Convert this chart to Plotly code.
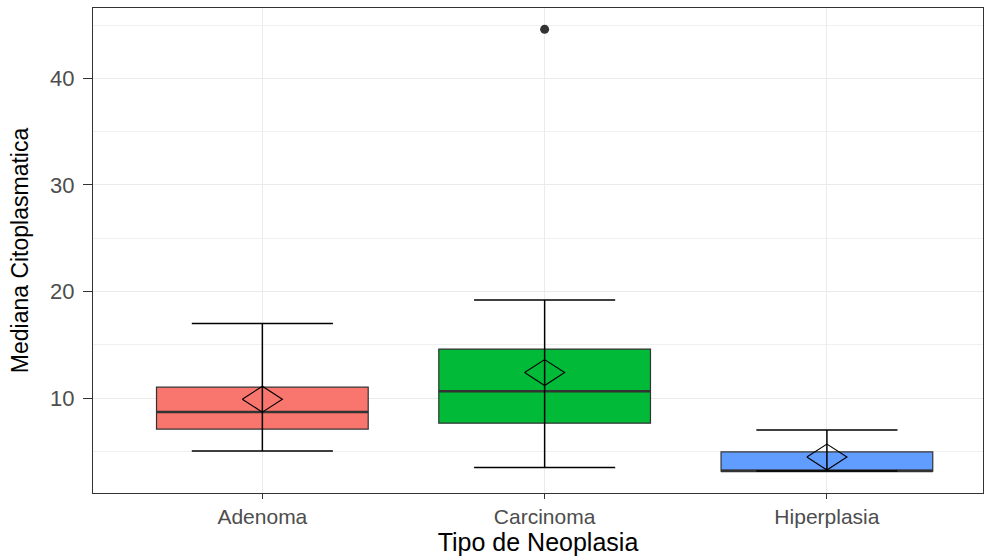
import plotly.graph_objects as go

categories = ["Adenoma", "Carcinoma", "Hiperplasia"]
q1 = [7.1, 7.65, 3.16]
median = [8.7, 10.65, 3.16]
q3 = [11.03, 14.6, 4.95]
whisker_low = [5.03, 3.5, 3.16]
whisker_high = [17.0, 19.2, 7.0]
means = [9.9, 12.4, 4.47]
outlier_cat = [2]
outlier_val = [44.6]
colors = ["#F8766D", "#00BA38", "#619CFF"]
y_ticks = [10, 20, 30, 40]

BOX_W = 0.75
CAP_W = 0.5
DIA_HX = 0.071
DIA_HY = 1.22

fig = go.Figure()
xs = list(range(1, len(categories) + 1))

for i, x in enumerate(xs):
    fig.add_trace(go.Box(
        x=[x], q1=[q1[i]], median=[median[i]], q3=[q3[i]],
        lowerfence=[q1[i]], upperfence=[q3[i]],
        width=BOX_W, fillcolor=colors[i],
        line=dict(color="#333333", width=1.2),
        boxpoints=False, hoverinfo="skip", showlegend=False,
    ))

# median lines (thicker)
mx, my = [], []
for i, x in enumerate(xs):
    mx += [x - BOX_W / 2, x + BOX_W / 2, None]
    my += [median[i], median[i], None]
fig.add_trace(go.Scatter(x=mx, y=my, mode="lines",
                         line=dict(color="#333333", width=2.4),
                         hoverinfo="skip", showlegend=False))

# errorbars
ex, ey = [], []
for i, x in enumerate(xs):
    ex += [x, x, None, x - CAP_W / 2, x + CAP_W / 2, None, x - CAP_W / 2, x + CAP_W / 2, None]
    ey += [whisker_low[i], whisker_high[i], None, whisker_high[i], whisker_high[i], None,
           whisker_low[i], whisker_low[i], None]
fig.add_trace(go.Scatter(x=ex, y=ey, mode="lines",
                         line=dict(color="black", width=1.5),
                         hoverinfo="skip", showlegend=False))

# mean diamonds
dx, dy = [], []
for i, x in enumerate(xs):
    m = means[i]
    dx += [x - DIA_HX, x, x + DIA_HX, x, x - DIA_HX, None]
    dy += [m, m + DIA_HY, m, m - DIA_HY, m, None]
fig.add_trace(go.Scatter(x=dx, y=dy, mode="lines",
                         line=dict(color="black", width=1.1),
                         hoverinfo="skip", showlegend=False))

# outliers
fig.add_trace(go.Scatter(x=outlier_cat, y=outlier_val, mode="markers",
                         marker=dict(color="#333333", size=9),
                         hoverinfo="skip", showlegend=False))

fig.update_layout(
    width=985, height=557,
    margin=dict(l=93, r=2, t=8, b=64, autoexpand=False),
    plot_bgcolor="white", paper_bgcolor="white",
    font=dict(family="Liberation Sans, Arial, sans-serif"),
    showlegend=False,
)
fig.update_xaxes(
    range=[0.4, 3.553],
    tickmode="array", tickvals=xs, ticktext=categories,
    showgrid=True, gridcolor="#EBEBEB", gridwidth=1.2,
    zeroline=False, automargin=False,
    showline=True, linecolor="#333333", linewidth=1.2, mirror=True,
    ticks="outside", ticklen=5, tickcolor="#333333", tickwidth=1.1,
    tickfont=dict(size=21, color="#4D4D4D"),
    title=dict(text="Tipo de Neoplasia", font=dict(size=25, color="black"), standoff=5),
)
fig.update_yaxes(
    range=[1.1, 46.6],
    tickmode="array", tickvals=y_ticks,
    showgrid=True, gridcolor="#EBEBEB", gridwidth=1.2,
    minor=dict(tickmode="array", tickvals=[5, 15, 25, 35, 45], showgrid=True,
               gridcolor="#F0F0F0", gridwidth=0.8, ticks=""),
    zeroline=False, automargin=False,
    showline=True, linecolor="#333333", linewidth=1.2, mirror=True,
    ticks="outside", ticklen=9, tickcolor="#333333", tickwidth=1.1,
    ticklabelstandoff=4,
    tickfont=dict(size=22, color="#4D4D4D"),
    title=dict(text="Mediana Citoplasmatica", font=dict(size=23, color="black"), standoff=14),
)

fig.write_html(
    "out.html",
    config={"displayModeBar": False},
    post_script="document.body.style.margin='0';document.body.style.overflow='hidden';",
)
